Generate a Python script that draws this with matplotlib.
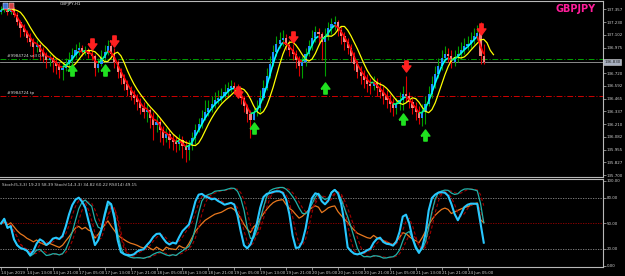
import numpy as np
import pandas as pd
import matplotlib
matplotlib.use('Agg')
import matplotlib.pyplot as plt
from matplotlib.collections import LineCollection
from matplotlib.path import Path
from matplotlib.patches import Rectangle

# GBPJPY H1 candles
first_open = 137.33
closes = [137.35, 137.37, 137.33, 137.36, 137.30, 137.23, 137.17, 137.13, 137.07, 137.03,
          136.98, 137.00, 136.93, 136.89, 136.85, 136.87, 136.83, 136.79, 136.75, 136.77,
          136.81, 136.85, 136.90, 136.95, 136.97, 136.93, 136.95, 136.91, 136.89, 136.77,
          136.81, 136.87, 136.93, 136.99, 136.91, 136.83, 136.73, 136.67, 136.61, 136.55,
          136.50, 136.47, 136.43, 136.37, 136.33, 136.35, 136.27, 136.20, 136.23, 136.15,
          136.07, 136.11, 136.05, 136.03, 136.01, 136.05, 135.99, 135.95, 136.00, 136.07,
          136.15, 136.21, 136.27, 136.33, 136.37, 136.41, 136.45, 136.47, 136.49, 136.53,
          136.57, 136.59, 136.57, 136.53, 136.47, 136.39, 136.31, 136.25, 136.33, 136.37,
          136.47, 136.57, 136.69, 136.81, 136.93, 137.01, 137.05, 137.07, 137.00, 136.95,
          136.91, 136.85, 136.79, 136.83, 136.91, 136.99, 137.07, 137.13, 137.11, 137.03,
          137.09, 137.17, 137.21, 137.23, 137.15, 137.09, 137.03, 136.97, 136.89, 136.81,
          136.73, 136.69, 136.65, 136.61, 136.59, 136.63, 136.57, 136.53, 136.49, 136.45,
          136.41, 136.37, 136.41, 136.45, 136.51, 136.49, 136.43, 136.37, 136.33, 136.27,
          136.33, 136.41, 136.51, 136.61, 136.71, 136.79, 136.87, 136.91, 136.89, 136.83,
          136.87, 136.91, 136.95, 136.99, 137.01, 137.05, 137.09, 137.12, 136.89, 136.83]
highs = [137.39, 137.41, 137.39, 137.40, 137.38, 137.33, 137.25, 137.21, 137.15, 137.12,
         137.07, 137.05, 137.02, 136.98, 136.93, 136.91, 136.90, 136.87, 136.83, 136.83,
         136.87, 136.93, 136.97, 137.01, 137.03, 137.00, 136.99, 136.97, 136.96, 136.91,
         136.87, 136.95, 137.00, 137.05, 137.02, 136.97, 136.85, 136.77, 136.71, 136.65,
         136.59, 136.55, 136.51, 136.47, 136.43, 136.41, 136.37, 136.33, 136.30, 136.27,
         136.19, 136.17, 136.15, 136.11, 136.09, 136.11, 136.09, 136.05, 136.05, 136.13,
         136.21, 136.27, 136.35, 136.45, 136.45, 136.49, 136.53, 136.55, 136.57, 136.61,
         136.63, 136.65, 136.63, 136.61, 136.57, 136.49, 136.41, 136.35, 136.37, 136.45,
         136.55, 136.65, 136.77, 136.89, 137.00, 137.09, 137.13, 137.15, 137.11, 137.05,
         137.01, 136.95, 136.89, 136.89, 136.97, 137.05, 137.15, 137.19, 137.17, 137.13,
         137.17, 137.23, 137.27, 137.29, 137.25, 137.19, 137.13, 137.07, 137.01, 136.93,
         136.85, 136.79, 136.75, 136.71, 136.67, 136.69, 136.67, 136.63, 136.59, 136.55,
         136.51, 136.47, 136.47, 136.53, 136.59, 136.69, 136.53, 136.47, 136.43, 136.39,
         136.41, 136.49, 136.59, 136.69, 136.79, 136.87, 136.95, 136.99, 136.97, 136.95,
         136.95, 136.99, 137.03, 137.07, 137.09, 137.13, 137.17, 137.20, 137.23, 137.01]
lows = [137.31, 137.33, 137.30, 137.31, 137.28, 137.20, 137.08, 137.09, 137.03, 136.99,
        136.87, 136.93, 136.85, 136.83, 136.77, 136.79, 136.73, 136.71, 136.67, 136.65,
        136.74, 136.77, 136.81, 136.87, 136.90, 136.89, 136.90, 136.87, 136.85, 136.69,
        136.73, 136.79, 136.83, 136.90, 136.87, 136.77, 136.67, 136.61, 136.55, 136.49,
        136.45, 136.41, 136.35, 136.31, 136.27, 136.23, 136.17, 136.05, 136.13, 136.03,
        136.00, 136.03, 135.97, 135.95, 135.93, 135.95, 135.87, 135.83, 135.85, 135.95,
        136.01, 136.13, 136.17, 136.25, 136.29, 136.33, 136.37, 136.41, 136.43, 136.47,
        136.49, 136.53, 136.51, 136.47, 136.41, 136.33, 136.23, 136.07, 136.25, 136.29,
        136.33, 136.45, 136.55, 136.67, 136.79, 136.89, 136.97, 136.99, 136.95, 136.89,
        136.85, 136.77, 136.69, 136.67, 136.79, 136.89, 136.95, 137.03, 137.01, 136.85,
        136.69, 137.05, 137.11, 137.15, 137.09, 137.01, 136.95, 136.91, 136.83, 136.75,
        136.67, 136.61, 136.57, 136.53, 136.51, 136.55, 136.49, 136.47, 136.41, 136.37,
        136.33, 136.29, 136.31, 136.35, 136.35, 136.43, 136.37, 136.31, 136.25, 136.21,
        136.19, 136.21, 136.39, 136.47, 136.57, 136.67, 136.75, 136.83, 136.83, 136.77,
        136.79, 136.83, 136.87, 136.91, 136.95, 136.97, 137.01, 137.05, 136.81, 136.81]

# signal arrows (bar index, price)
sell_bars = [28, 35, 73, 90, 125, 148]
sell_prices = [137.01, 137.04, 136.53, 137.08, 136.79, 137.16]
buy_bars = [22, 32, 78, 100, 124, 131]
buy_prices = [136.75, 136.75, 136.17, 136.57, 136.26, 136.10]

order_open = 136.86
order_tp = 136.49

price_ticks = [137.357, 137.230, 137.102, 136.975, 136.720, 136.592,
               136.465, 136.337, 136.210, 136.082, 135.955, 135.827, 135.700]
time_labels = ['14 Jun 2019', '14 Jun 13:00', '14 Jun 21:00', '17 Jun 05:00', '17 Jun 13:00',
               '17 Jun 21:00', '18 Jun 05:00', '18 Jun 13:00', '18 Jun 21:00', '19 Jun 05:00',
               '19 Jun 13:00', '19 Jun 21:00', '20 Jun 05:00', '20 Jun 13:00', '20 Jun 21:00',
               '21 Jun 05:00', '21 Jun 13:00', '21 Jun 21:00', '24 Jun 05:00']
osc_levels = [100, 80, 50, 20, 0]

close = pd.Series(closes)
high = pd.Series(highs)
low = pd.Series(lows)
opens = pd.Series([first_open] + closes[:-1])
n = len(close)
x = np.arange(n)

# indicators
fast = close.ewm(span=3, adjust=False).mean()
slow = close.rolling(3, center=True, min_periods=1).mean().rolling(3, center=True, min_periods=1).mean()
slow_shift = 3


def stoch(k, d, sl):
    ll = low.rolling(k, min_periods=1).min()
    hh = high.rolling(k, min_periods=1).max()
    num = (close - ll).rolling(sl, min_periods=1).sum()
    den = (hh - ll).rolling(sl, min_periods=1).sum()
    main = 100 * num / den
    return main, main.rolling(d, min_periods=1).mean()


def rsi(period):
    diff = close.diff().fillna(0).values
    seed = np.abs(diff).mean() / 2
    ag, al = seed, seed
    out = []
    for dv in diff:
        ag = (ag * (period - 1) + max(dv, 0)) / period
        al = (al * (period - 1) + max(-dv, 0)) / period
        out.append(100 - 100 / (1 + ag / al))
    return np.array(out)


st5, st5s = stoch(5, 3, 3)
st14, st14s = stoch(14, 3, 3)
rsi14 = rsi(14)

W, H = 625, 276
fig = plt.figure(figsize=(6.25, 2.76), dpi=100, facecolor='black')


def px_axes(x0, y0, x1, y1):
    a = fig.add_axes([x0 / W, 1 - y1 / H, (x1 - x0) / W, (y1 - y0) / H])
    a.set_facecolor('black')
    return a


ax = px_axes(0, 1, 603, 177)
ax2 = px_axes(0, 179, 603, 267)
xmin, xmax = -0.31, 185.8
for a in (ax, ax2):
    a.set_xlim(xmin, xmax)
    a.spines['left'].set_visible(False)
    for s in ('top', 'right', 'bottom'):
        a.spines[s].set_color('#B8B8B8')
        a.spines[s].set_linewidth(0.8)
    a.yaxis.tick_right()
    a.tick_params(axis='y', length=2, width=0.5, color='#B8B8B8', labelsize=2.9,
                  labelcolor='#D0D0D0', pad=0.8)

ax.set_ylim(135.68, 137.44)
ax2.set_ylim(-1.18, 102.35)

# order lines
ax.axhline(order_open, color='#00A000', lw=0.7, ls=(0, (6, 2, 1, 2)))
ax.axhline(order_tp, color='#D00000', lw=0.7, ls=(0, (6, 2, 1, 2)))
ax.axhline(close.iloc[-1], color='#A0A0A0', lw=0.6)
ax.text(2, order_open + 0.01, '#9984724 sell 0.05', color='#D8D8D8', fontsize=3, va='bottom')
ax.text(2, order_tp + 0.01, '#9984724 tp', color='#D8D8D8', fontsize=3, va='bottom')

# candles
up = close >= opens
ax.vlines(x, low, high, colors=np.where(up, '#00A000', '#E00000'), lw=0.8, zorder=2)
body_bottom = np.minimum(opens, close)
body_h = np.maximum(np.abs(close - opens), 0.006)
ax.bar(x, body_h, bottom=body_bottom, width=0.66,
       color=np.where(up, '#1E90FF', '#F47C7C'), zorder=3)

# slow yellow line (shifted forward)
ax.plot(x + slow_shift, slow, color='#FFFF00', lw=0.9, zorder=4)

# fast colored line
pts = np.column_stack([x, fast.values])
segs = np.stack([pts[:-1], pts[1:]], axis=1)
cols = []
streak = 0
for i in range(n - 1):
    if fast.iloc[i + 1] >= fast.iloc[i]:
        streak += 1
        t = min(streak, 5) / 5
        cols.append((0.0, 1.0, 0.35 + 0.65 * t))
    else:
        streak = 0
        cols.append((1.0, 0.0, 0.0))
ax.add_collection(LineCollection(segs, colors=cols, lw=1.2, zorder=5))

# arrows
down_arrow = Path([(-0.4, 0.05), (-0.15, 0.05), (-0.15, 0.5), (0.15, 0.5), (0.15, 0.05),
                   (0.4, 0.05), (0, -0.5), (-0.4, 0.05)])
up_arrow = Path([(-0.4, -0.05), (-0.15, -0.05), (-0.15, -0.5), (0.15, -0.5), (0.15, -0.05),
                 (0.4, -0.05), (0, 0.5), (-0.4, -0.05)])
ax.plot(sell_bars, sell_prices, ls='none', marker=down_arrow, ms=8, color='#FF2020', zorder=6)
ax.plot(buy_bars, buy_prices, ls='none', marker=up_arrow, ms=8, color='#20E020', zorder=6)

ax.set_xticks([])
ax.set_yticks(price_ticks)
ax.set_yticklabels(['%.3f' % v for v in price_ticks])
ax.text(1.002, (close.iloc[-1] - 135.68) / (137.44 - 135.68), '%.3f' % close.iloc[-1],
        transform=ax.transAxes, fontsize=2.9, color='#202020', va='center', ha='left',
        bbox=dict(boxstyle='square,pad=0.2', fc='#A8B0C0', ec='#D0D0D0', lw=0.4), zorder=10)

ax.text(0.987, 0.955, 'GBPJPY', transform=ax.transAxes, color='#FF1E9A', fontsize=7,
        fontweight='bold', ha='right', va='center')
ax.text(18, 137.415, 'GBPJPY,H1', color='#E0E0E0', fontsize=3, va='center')
fig.patches.append(Rectangle((3 / W, 1 - 9 / H), 5 / W, 6 / H, transform=fig.transFigure,
                             fc='#4070D0', ec='white', lw=0.3))
fig.patches.append(Rectangle((9 / W, 1 - 9 / H), 5 / W, 6 / H, transform=fig.transFigure,
                             fc='#D04040', ec='white', lw=0.3))

# oscillator panel
ax2.axhline(80, color='#909090', lw=0.6, ls=(0, (1.5, 1.5)))
ax2.axhline(20, color='#909090', lw=0.6, ls=(0, (1.5, 1.5)))
ax2.axhline(50, color='#A00000', lw=0.6, ls=(0, (1.5, 1.5)))
ax2.plot(x, rsi14, color='#E8781E', lw=0.9)
ax2.plot(x, st14s, color='#A00000', lw=0.8, ls=(0, (3, 2)))
ax2.plot(x, st5s, color='#A00000', lw=0.8, ls=(0, (3, 2)))
ax2.plot(x, st14, color='#20B2AA', lw=0.9)
ax2.plot(x, st5, color='#28C8FF', lw=1.5)
ax2.set_yticks(osc_levels)
ax2.set_yticklabels(['%.2f' % v for v in osc_levels])
ax2.text(0.004, 0.96, 'Stoch(5,3,3) 19.23 58.39 Stoch(14,3,3) 34.82 60.22 RSI(14) 49.15',
         transform=ax2.transAxes, color='#D0D0D0', fontsize=3, va='top')

ax2.set_xticks(np.arange(len(time_labels)) * 8)
ax2.set_xticklabels(time_labels)
ax2.tick_params(axis='x', length=2, width=0.5, color='#B8B8B8', labelsize=2.9,
                labelcolor='#D0D0D0', pad=0.8)
for lbl in ax2.get_xticklabels():
    lbl.set_ha('left')

fig.savefig('out.png', dpi=100, facecolor='black')
